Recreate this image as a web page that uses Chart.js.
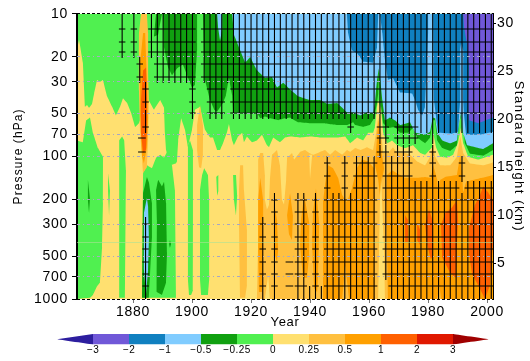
<!DOCTYPE html>
<html>
<head>
<meta charset="utf-8">
<script src="https://cdn.jsdelivr.net/npm/chart.js@4"></script>
<style>
  body { margin: 0; background: #fff; }
  #plot { position: absolute; left: 0; top: 0; }
  #bar { position: absolute; left: 0; top: 325px; }
</style>
</head>
<body>
<canvas id="plot" width="530" height="361"></canvas>
<canvas id="bar" width="530" height="36"></canvas>
<script>
// axis labels
const pressureTicks = [10, 20, 30, 50, 70, 100, 200, 300, 400, 500, 700, 1000];
const yearTicks = [1880, 1900, 1920, 1940, 1960, 1980, 2000];
const heightTicks = [5, 10, 15, 20, 25, 30];
const barLevels = [-3, -2, -1, -0.5, -0.25, 0, 0.25, 0.5, 1, 2, 3];

// contour regions, [year, height km]
const wholeArea = [[1861,31],[2002,31],[2002,1.28],[1861,1.28]];
const leftEdge = [[1861,31],[1861,1.28]];
const stratGreen = [[1861,31],[1861,27.2],[1861.7,28.3],[1863,25.9],[1863.7,21.3],[1864.4,21.5],[1865.1,21.2],[1866.1,21.6],[1866.8,22.7],[1867.8,24.1],[1868.8,23.9],[1869.8,24.1],[1871.2,22.4],[1872.9,21.3],[1874.2,20.4],[1875.6,21.3],[1876.6,22.2],[1878,21.7],[1879.3,20.7],[1880.7,19.2],[1882,19.6],[1885.1,22.1],[1887.1,21],[1889.2,22],[1890.5,21.2],[1890.8,18.6],[1891.2,16.8],[1892.5,15.2],[1894.5,15.4],[1894.9,15.6],[1895.3,17.8],[1896.3,20.1],[1897.6,18.9],[1898.6,17.1],[1900,18.9],[1901,21],[1902.7,21.3],[1904.4,18.9],[1906.1,18.1],[1907.1,18.1],[1908.5,16.8],[1909.5,16.8],[1910.5,17.5],[1911.9,18.7],[1912.5,19.5],[1913.6,17.8],[1914.2,17.3],[1915.6,18.2],[1917,18.6],[1917.6,17.6],[1918.6,18.2],[1920.3,17.6],[1922,17.8],[1923.7,18.4],[1925.4,17.3],[1926.1,17.1],[1927.5,18.1],[1929.8,17.6],[1931.5,18.1],[1933.2,18.2],[1936.6,18.1],[1940,18.2],[1943.4,18.1],[1946.8,18.1],[1949.5,18.1],[1951.9,18.2],[1953.6,17.5],[1955.9,18.1],[1958,17.8],[1959.7,18.6],[1961.4,18.6],[1962,19.2],[1962.7,21.3],[1963.1,22],[1964.1,21],[1964.8,18.6],[1966.1,17.5],[1967.8,17.8],[1969.5,17.3],[1972.2,17],[1974.9,17.3],[1977.3,16.5],[1979,16.3],[1981.4,17.1],[1981.7,18.6],[1982.7,17.1],[1984.1,16.1],[1986.4,16],[1988.5,16.3],[1990.2,17.6],[1991.2,19.2],[1991.9,17.5],[1993.6,16.1],[1997,15.8],[2000,16.1],[2002,16.3],[2002,31]];
const green1 = [[1861,17.8],[1863,17.6],[1864.1,19.9],[1865.4,20.2],[1866.4,18.6],[1868.1,17],[1869.8,16.1],[1869.8,11.3],[1869.5,6.7],[1868.8,3],[1867.8,2.6],[1866.4,1.7],[1865.4,1.4],[1861,1.28]];
const green2 = [[1875.3,17.8],[1876.3,18.2],[1877,17.8],[1877.6,14.7],[1877.3,1.4],[1875.3,1.4]];
const green3 = [[1871.5,14.4],[1872.2,12.6],[1871.9,10],[1871.5,12.6]];
const green4 = [[1883.1,1.4],[1883.4,14.4],[1884.7,15.2],[1886.4,14.9],[1887.8,16],[1889.2,16.3],[1890.5,16],[1891.9,16.8],[1893.2,15.2],[1894.2,12.6],[1894.6,1.4]];
const green5 = [[1898.6,17.3],[1899.3,17.8],[1900.3,16.8],[1900.3,2.2],[1899.7,1.7],[1899,1.7],[1898.6,3.3]];
const green6 = [[1904.1,14.9],[1905.4,14.2],[1905.8,11.6],[1905.8,3.3],[1905.4,1.7],[1903.1,1.7],[1902.7,3.3],[1902.7,12.6],[1903.4,14.2]];
const green7 = [[1908.2,14],[1908.9,14.2],[1908.9,12.5],[1908.5,12]];
const green8 = [[1913.9,14.2],[1914.9,14.2],[1915.3,12.1],[1914.9,10],[1914.2,11.6]];
const darkGreen1 = [[1887.8,31],[1887.1,28.6],[1888.5,28.8],[1889.8,31]];
const darkGreen2 = [[1890.2,31],[1890.5,27.5],[1891.9,25.4],[1893.2,24.6],[1894.9,25.3],[1896.9,25.7],[1898.3,24.6],[1900,23.3],[1901,23.6],[1901.7,27.2],[1901.7,31]];
const darkGreen3 = [[1903.7,31],[1904.1,26.2],[1904.4,24.1],[1906.1,22],[1907.5,21],[1908.5,20.8],[1910.5,21.7],[1911.5,22.5],[1912.5,24.3],[1913.6,22.5],[1913.9,20.7],[1917.3,20.7],[1922,20.7],[1923.1,20.1],[1924.7,20.3],[1926.4,20.1],[1929.2,19.9],[1931.5,20.1],[1933.2,20.2],[1935.9,19.7],[1940,19.6],[1944.4,19.6],[1949.5,19.4],[1952.5,19.4],[1954.6,19.7],[1955.3,19.4],[1958,19.2],[1960.3,19.4],[1961.7,20.1],[1962.7,21.7],[1963.1,22.7],[1963.4,25.3],[1964.1,21.3],[1964.8,19.6],[1966.4,19.1],[1968.8,19.2],[1970.5,18.6],[1973.2,18.6],[1974.9,19.1],[1976.3,18.1],[1979,17.5],[1980.7,18.1],[1981.7,19.9],[1982.4,19.9],[1983.1,17.8],[1984.8,17],[1987.5,16.7],[1989.8,17.3],[1990.5,19.6],[1991.2,20.4],[1991.9,19.6],[1992.5,17.5],[1994.2,16.4],[1998.7,16.2],[2002,16.8],[2002,31]];
const darkGreen4 = [[1884.7,14],[1883.4,12.3],[1883.1,1.4],[1885.4,1.4],[1886.4,7.7],[1886.4,11.3],[1885.4,13.4]];
const darkGreen5 = [[1888.5,13.7],[1887.8,12.6],[1888.1,9.5],[1888.1,2],[1889.8,1.7],[1891.2,3],[1891.5,6.1],[1891.2,11.3],[1890.5,13.5],[1889.8,13]];
const darkGreen6 = [[1864.7,13.7],[1865.4,11.8],[1865.1,10.2],[1864.7,11.6]];
const darkGreen7 = [[1892.5,7.4],[1892.9,7],[1892.5,6.6],[1892.2,7]];
const lightBlue1 = [[1908.5,31],[1908.9,29.4],[1909.5,28.2],[1910.2,29.3],[1910.2,31]];
const lightBlue2 = [[1913.6,31],[1914.2,28.8],[1916.3,27.2],[1918,25.9],[1919.7,26.5],[1922,25.1],[1924.7,24.3],[1927.1,24.4],[1928.8,23.3],[1930.9,23.8],[1933.2,23.1],[1935.9,22.4],[1940,22],[1943.4,22],[1945.8,21.6],[1949.2,21.7],[1950.9,21.2],[1952.5,20.7],[1954.6,20.7],[1957,20.4],[1959.3,20.7],[1961.4,20.6],[1962,21.7],[1962.7,24.1],[1963.3,25.3],[1963.8,24.1],[1964.5,22],[1965.4,19.9],[1967.1,20.2],[1968.8,19.9],[1970.5,19.4],[1973.9,19.7],[1975.6,18.6],[1979,18.4],[1980.7,18.7],[1981.4,19.9],[1981.7,20.2],[1982.4,20.1],[1983.1,18.6],[1984.8,17.8],[1987.5,17.5],[1989.8,17.8],[1990.2,18.9],[1991.2,20.7],[1991.9,18.6],[1993.2,17.3],[1995.9,17.1],[1998.7,16.9],[2002,17.5],[2002,31]];
const lightBlue3 = [[1884.7,11.8],[1883.7,10.2],[1883.7,4.3],[1884.4,1.7],[1885.1,4.3],[1885.4,7.7],[1885.1,10.9]];
const blue1 = [[1952.5,31],[1952.9,29],[1954.2,27.2],[1955.9,26.9],[1958,26],[1961.4,25.9],[1962.7,27.5],[1963.1,31]];
const blue2 = [[1963.7,31],[1964.5,29],[1965.4,26.2],[1966.4,24.1],[1968.1,24.3],[1970.5,22.8],[1974.6,22.7],[1975.6,22],[1976.6,21],[1978,20.4],[1979,21.3],[1980,29],[1980,31]];
const blue3 = [[1981.7,31],[1982,22],[1983.4,18.6],[1988.1,18.5],[1990.2,18.7],[1990.5,20.4],[1990.9,22],[1990.9,27.2],[1991.2,28],[1991.9,27.2],[1991.9,22],[1992.2,20.4],[1992.9,18.4],[1997.6,18.4],[2002,18.7],[2002,31]];
const purple1 = [[1991.9,31],[1992.2,29.6],[1993.2,27.9],[1993.9,25.4],[1993.6,22],[1993.9,19.9],[1997,19.6],[2002,20.2],[2002,31]];
const warmSpike1 = [[1882.7,31],[1884.7,31],[1885.1,29],[1885.1,24.8],[1885.4,22],[1885.1,17.8],[1884.7,15],[1883.4,14.4],[1882.4,18.6],[1882,23],[1882,29]];
const warmSpike2 = [[1883.4,29],[1884.1,29],[1884.7,24.4],[1885.1,20.2],[1884.7,17.1],[1883.7,15.4],[1883.1,16.1],[1882.4,20.2],[1882.4,25.9]];
const warmSpike3 = [[1883.4,25.1],[1884.4,25.4],[1884.7,22.3],[1884.7,19.6],[1884.4,16.8],[1883.4,16.5],[1882.7,18.6],[1882.7,22]];
const warmSpike4 = [[1902.7,21.5],[1903.7,19.4],[1903.7,16.3],[1903.1,14.9],[1902.4,15],[1901.7,16.8],[1901.7,19.4]];
const warmColumn = [[1916.3,15.2],[1917.3,15.2],[1917.6,12.6],[1918.6,8.5],[1918.6,2.7],[1918,1.4],[1916.3,1.4],[1915.9,9.5],[1915.9,12.6]];
const warmMain = [[1922,1.28],[1922.4,7.4],[1922.4,15.8],[1923.1,16.5],[1924.1,16.5],[1924.7,14.2],[1924.7,11.6],[1925.4,10.6],[1926.1,11.1],[1926.4,13.7],[1927.1,16.3],[1928.8,16.8],[1929.8,15.2],[1930.5,11.6],[1931.2,11.1],[1931.9,13.7],[1932.2,16],[1933.9,16.5],[1934.6,15.8],[1936.6,16.6],[1938.3,16.8],[1939.7,16.5],[1941,16.3],[1943.4,16.6],[1945.1,16.8],[1946.8,16.3],[1948.5,16.8],[1950.9,16.3],[1952.5,16.8],[1953.6,16.6],[1955.3,17],[1957,16.8],[1959.3,17.1],[1961.4,16.8],[1962.4,18.6],[1963.1,20.2],[1964.1,18.6],[1964.8,16.5],[1966.4,16.5],[1968.1,17.1],[1969.5,16.5],[1972.2,16.5],[1973.9,16.3],[1976.3,15.6],[1979,15.2],[1980.7,16.1],[1981.7,17.5],[1982.4,16.1],[1984.1,15.2],[1987.5,15.2],[1989.8,16.1],[1990.9,18.2],[1991.9,16.5],[1994.2,15.4],[1998.7,15.2],[2002,15.5],[2002,1.28]];
const coolTongue1 = [[1925.8,3.8],[1926.4,1.28],[1924.7,1.28]];
const coolTongue2 = [[1963.1,1.28],[1963.4,6.4],[1963.7,11.6],[1964.1,14.2],[1964.4,11.6],[1965.1,6.4],[1965.4,1.28]];
const coolTongue3 = [[1939.7,16.3],[1940.7,16.3],[1940,13.7]];
const amberTongue1 = [[1951.9,4.8],[1953.2,1.28],[1950.9,1.28]];
const amberTongue2 = [[1983.1,1.28],[1983.8,2.7],[1984.4,1.28]];
const orange1 = [[1923.1,13.9],[1924.1,11.6],[1924.1,5.4],[1923.7,2],[1922.7,2],[1922.4,6.4],[1922.4,11.6]];
const orange2 = [[1928.1,10.8],[1928.8,9.5],[1929.2,6.4],[1928.8,5.1],[1928.1,5.9],[1927.8,8.5]];
const orange3 = [[1933.2,12.3],[1934.2,10],[1933.9,7.4],[1932.9,8],[1932.2,10]];
const orange4 = [[1938,12.1],[1939.7,9.3],[1939.7,5.9],[1939,3.5],[1937.6,3.5],[1936.6,6.9],[1937,9.7]];
const orange5 = [[1942,12.8],[1943.1,9.3],[1942.7,3.5],[1942.4,2],[1941.4,2.4],[1940.7,6.9],[1941,10.4]];
const orange6 = [[1944.4,1.28],[1944.4,11.4],[1945.1,13.2],[1946.1,15.2],[1947.8,14.9],[1949.5,13.9],[1950.9,12.1],[1952.5,11.4],[1954.2,12.8],[1955.9,14.9],[1957.6,15.8],[1959.7,15.6],[1961.7,14.9],[1962,11.8],[1961.7,6.9],[1962,1.28]];
const orange7 = [[1963.1,19.9],[1964.1,16.8],[1965.1,14.9],[1964.4,13.7],[1963.7,12.1],[1963.1,13.7],[1962,15.2]];
const orange8 = [[1966.4,1.28],[1966.1,6.4],[1965.8,11.6],[1966.1,14.2],[1967.8,14.7],[1970.5,14.2],[1972.2,13.9],[1975.6,13.9],[1979,14],[1981,13.9],[1981.7,15.2],[1982.4,14.5],[1983.1,13.7],[1983.4,12.3],[1984.1,13.7],[1985.8,14],[1989.8,14.2],[1990.9,16.3],[1991.5,14.7],[1991.9,12.4],[1992.9,13.5],[1998.3,13.9],[2002,14.2],[2002,1.28]];
const hot1 = [[1972.2,10],[1973.2,9.5],[1973.2,7.2],[1972.2,7.2]];
const hot2 = [[1976.3,9.2],[1977.3,8.5],[1977.3,6.9],[1976.3,7.4]];
const hot3 = [[1980.3,10.6],[1981.7,9.3],[1981.7,5.9],[1981,5.4],[1979.7,6.9],[1979,9]];
const hot4 = [[1989.8,11.6],[1990.2,9.5],[1989.8,6.9],[1989.5,3.5],[1987.5,4],[1984.8,5.6],[1984.4,9],[1985.8,10.2],[1988.1,10.8]];
const hot5 = [[1993.9,8.7],[1995.9,11.1],[1997.6,12.1],[1998.7,13],[2000.3,12.4],[2002,11.6],[2002,6.9],[2001,2.7],[1999.3,1.28],[1997,2.7],[1995,3.8],[1993.9,5.9]];

// significance marks: height of each row, then the runs of two-year columns marked in it
const topRuns = [[1876,1876],[1880,1880],[1886,1900],[1904,2002]];
const runs64 = [[1882,1882],[1888,1900],[1904,2002]];
const runs89 = [[1884,1884],[1900,1900],[1906,1910],[1914,2002]];
const runs163 = [[1946,1946],[1952,1952],[1956,1962],[1966,1974],[1982,1982],[1992,1992]];
const runsMid = [[1928,1928],[1936,1938],[1942,1942],[1946,1962],[1966,2002]];
const runsLow = [[1884,1884],[1924,1924],[1928,1928],[1936,1938],[1942,1942],[1946,1962],[1966,2002]];
const markRows = [
  [29.41, topRuns], [28.05, topRuns], [27.01, topRuns],
  [25.76, runs64], [24.41, runs64],
  [23.16, runs89], [21.80, runs89],
  [20.66, [[1900,1900],[1906,1910],[1914,2002]]],
  [19.20, [[1884,1884],[1954,1954],[1964,1966],[1970,1976]]],
  [18.05, [[1964,1966],[1970,1976]]],
  [16.59, [[1964,1966],[1970,1974],[1982,1982]]],
  [15.45, runs163], [14.09, runs163],
  [12.84, [[1946,1946],[1952,1952],[1956,1962],[1966,1982],[1984,1990],[1994,2002]]],
  [11.59, runsMid], [10.34, runsMid],
  [9.09, runsLow], [7.74, runsLow], [6.49, runsLow], [5.14, runsLow], [3.89, runsLow],
  [2.63, [[1884,1884],[1924,1924],[1928,1928],[1936,1938],[1942,1942],[1946,1962],[1968,2002]]]
];
// rows where only the vertical stroke shows
const stubRows = [
  [30.55, topRuns],
  [20.24, [[1884,1884],[1954,1954],[1964,1966],[1970,2002]]],
  [19.20, [[1978,2002]]],
  [18.05, [[1982,1982]]],
  [1.90, [[1884,1884],[1924,1924],[1928,1928],[1936,1944],[1946,1962],[1968,2002]]]
];
const loneDashes = [[1883,18.05],[1883,16.59],[1933,5.14],[1933,3.89],[1933,2.63]];

const colors = {
  purple: '#7058d8', blue: '#1080c0', lightBlue: '#80ccff', darkGreen: '#10a010', green: '#50f050',
  yellow: '#ffe070', amber: '#ffc040', orange: '#ffa000', hot: '#ff6000', red: '#e01800',
  deepBlue: '#2d1e9f', deepRed: '#a00000'
};

const layers = [
  [wholeArea, colors.yellow], [stratGreen, colors.green],
  [green1, colors.green], [green2, colors.green], [green3, colors.green], [green4, colors.green],
  [green5, colors.green], [green6, colors.green], [green7, colors.green], [green8, colors.green],
  [darkGreen1, colors.darkGreen], [darkGreen2, colors.darkGreen], [darkGreen3, colors.darkGreen],
  [darkGreen4, colors.darkGreen], [darkGreen5, colors.darkGreen], [darkGreen6, colors.darkGreen], [darkGreen7, colors.darkGreen],
  [lightBlue1, colors.lightBlue], [lightBlue2, colors.lightBlue], [lightBlue3, colors.lightBlue],
  [blue1, colors.blue], [blue2, colors.blue], [blue3, colors.blue], [purple1, colors.purple],
  [warmSpike1, colors.amber], [warmSpike2, colors.orange], [warmSpike3, colors.hot], [warmSpike4, colors.amber],
  [warmColumn, colors.amber], [warmMain, colors.amber],
  [orange1, colors.orange], [orange2, colors.orange], [orange3, colors.orange], [orange4, colors.orange],
  [orange5, colors.orange], [orange6, colors.orange], [orange7, colors.orange], [orange8, colors.orange],
  [amberTongue1, colors.amber], [amberTongue2, colors.amber],
  [coolTongue1, colors.yellow], [coolTongue2, colors.yellow], [coolTongue3, colors.yellow],
  [hot1, colors.hot], [hot2, colors.hot], [hot3, colors.hot], [hot4, colors.hot], [hot5, colors.hot]
];

function toPoints(list) {
  return list.map(p => ({ x: p[0], y: p[1] }));
}

// the columns sit a little off the even years
function columnYear(y) {
  return 1876.3 + (y - 1876) * 0.993;
}

function markSegments() {
  const pts = [];
  const cross = (year, km, withBar) => {
    const x = columnYear(year);
    pts.push({ x: x, y: km + 0.73 }, { x: x, y: km - 0.62 }, { x: x, y: null });
    if (withBar) pts.push({ x: x - 1.1, y: km }, { x: x + 1.1, y: km }, { x: x, y: null });
  };
  const eachRun = (rows, withBar) => rows.forEach(([km, runs]) => runs.forEach(([a, b]) => {
    for (let y = a; y <= b; y += 2) cross(y, km, withBar);
  }));
  eachRun(markRows, true);
  eachRun(stubRows, false);
  loneDashes.forEach(([year, km]) => pts.push({ x: year - 1.3, y: km }, { x: year + 1.3, y: km }, { x: year, y: null }));
  return pts;
}

const shapeSets = layers.map(([pts, color]) => ({
  data: toPoints(pts), yAxisID: 'yKm', showLine: true, fill: 'shape', tension: 0.001,
  backgroundColor: color, borderWidth: 0, pointRadius: 0
}));
shapeSets.push({
  data: markSegments(), yAxisID: 'yKm', showLine: true, fill: false, tension: 0.001,
  borderColor: '#000', borderWidth: 1.1, pointRadius: 0
});
shapeSets.push({
  data: toPoints(leftEdge), yAxisID: 'yKm', showLine: true, fill: false,
  borderColor: '#000', borderWidth: 2, pointRadius: 0, clip: false
});
// chart.js paints the first dataset last
shapeSets.reverse();

const labelFont = { family: '"Liberation Sans", sans-serif', size: 14 };

// wider letter spacing as in the original plot; titles get their own
const textSpacing = {
  id: 'textSpacing',
  beforeDraw(chart) {
    const opts = chart.options.plugins.textSpacing;
    chart.ctx.letterSpacing = opts.px + 'px';
    Object.keys(opts.titles || {}).forEach(id => {
      const scale = chart.scales[id];
      if (scale._spaced) return;
      const drawTitle = scale.drawTitle;
      scale.drawTitle = function () {
        chart.ctx.letterSpacing = opts.titles[id] + 'px';
        drawTitle.call(this);
        chart.ctx.letterSpacing = opts.px + 'px';
      };
      scale._spaced = true;
    });
  }
};

new Chart(document.getElementById('plot'), {
  type: 'scatter',
  data: { datasets: shapeSets },
  plugins: [textSpacing],
  options: {
    responsive: false,
    animation: false,
    layout: { padding: { top: 13.7 } },
    plugins: {
      legend: { display: false }, tooltip: { enabled: false },
      textSpacing: { px: 0.7, titles: { y: 1.1, yKm: 1.5 } }
    },
    scales: {
      x: {
        type: 'linear', min: 1861, max: 2002,
        afterBuildTicks: s => { s.ticks = yearTicks.map(v => ({ value: v })); },
        afterFit: s => { s.height = 62; },
        border: { display: false },
        grid: { drawOnChartArea: false, tickLength: 4, tickColor: '#777' },
        ticks: { color: '#000', font: labelFont, padding: 1, maxRotation: 0, autoSkip: false, callback: v => String(v) },
        title: { display: true, text: 'Year', color: '#000', font: { family: labelFont.family, size: 13 }, padding: { bottom: 31 } }
      },
      y: {
        type: 'logarithmic', position: 'left', reverse: true, min: 10, max: 1000,
        afterBuildTicks: s => { s.ticks = pressureTicks.map(v => ({ value: v })); },
        afterFit: s => { s.width = 77; },
        border: {
          display: false,
          dash: c => (c.tick && (c.tick.value === 10 || c.tick.value === 1000)) ? [3, 2] : (c.tick && c.tick.value === 400 ? [] : [3, 3, 1, 3])
        },
        grid: {
          z: 1, tickLength: 5, lineWidth: 1,
          color: c => {
            const v = c.tick && c.tick.value;
            if (v === 10 || v === 1000) return '#000';
            return v === 400 ? 'rgba(170,225,150,0.6)' : '#a8a8c4';
          },
          tickColor: c => (c.tick && c.tick.value === 400) ? 'rgba(0,0,0,0)' : '#000'
        },
        ticks: { color: '#000', font: labelFont, padding: 4, autoSkip: false, callback: v => (v === 400 ? '' : String(v)) },
        title: { display: true, text: 'Pressure (hPa)', color: '#000', font: { family: labelFont.family, size: 12 }, padding: { top: 11, bottom: 0 } }
      },
      yKm: {
        type: 'linear', position: 'right', min: 1.28, max: 31,
        afterBuildTicks: s => { s.ticks = heightTicks.map(v => ({ value: v })); },
        afterFit: s => { s.width = 37; },
        border: { color: '#000', width: 2 },
        grid: { drawOnChartArea: false, tickLength: 3, tickColor: '#000' },
        ticks: { color: '#000', font: labelFont, padding: 1, autoSkip: false, callback: v => String(v) },
        title: { display: true, text: 'Standard height (km)', color: '#000', font: { family: labelFont.family, size: 13 }, padding: { top: 4, bottom: 0 } }
      }
    }
  }
});

// colour bar: one box per interval of barLevels, a point at each end
const barColors = [colors.purple, colors.blue, colors.lightBlue, colors.darkGreen, colors.green, colors.yellow, colors.amber, colors.orange, colors.hot, colors.red];
const barSets = barColors.map((color, i) => ({
  data: toPoints([[i, 0], [i + 1, 0], [i + 1, 1], [i, 1]]),
  showLine: true, fill: 'shape', tension: 0.001, backgroundColor: color, borderWidth: 0, pointRadius: 0
}));
barSets.push(
  { data: toPoints([[-1, 0.5], [0, 0], [0, 1]]), showLine: true, fill: 'shape', tension: 0.001, backgroundColor: colors.deepBlue, borderWidth: 0, pointRadius: 0 },
  { data: toPoints([[10, 0], [11, 0.5], [10, 1]]), showLine: true, fill: 'shape', tension: 0.001, backgroundColor: colors.deepRed, borderWidth: 0, pointRadius: 0 }
);

new Chart(document.getElementById('bar'), {
  type: 'scatter',
  data: { datasets: barSets },
  plugins: [textSpacing],
  options: {
    responsive: false,
    animation: false,
    layout: { padding: { left: 57, right: 41, top: 9 } },
    plugins: { legend: { display: false }, tooltip: { enabled: false }, textSpacing: { px: 0.4 } },
    scales: {
      x: {
        type: 'linear', min: -1, max: 11,
        afterBuildTicks: s => { s.ticks = barLevels.map((v, i) => ({ value: i })); },
        afterFit: s => { s.height = 16.5; },
        border: { display: false },
        grid: { display: false, drawTicks: false },
        ticks: {
          color: '#000', padding: 0, maxRotation: 0, autoSkip: false,
          font: { family: labelFont.family, size: 10 },
          callback: v => String(barLevels[v]).replace('-', '\u2212')
        }
      },
      y: { type: 'linear', min: 0, max: 1, display: false }
    }
  }
});
</script>
</body>
</html>
